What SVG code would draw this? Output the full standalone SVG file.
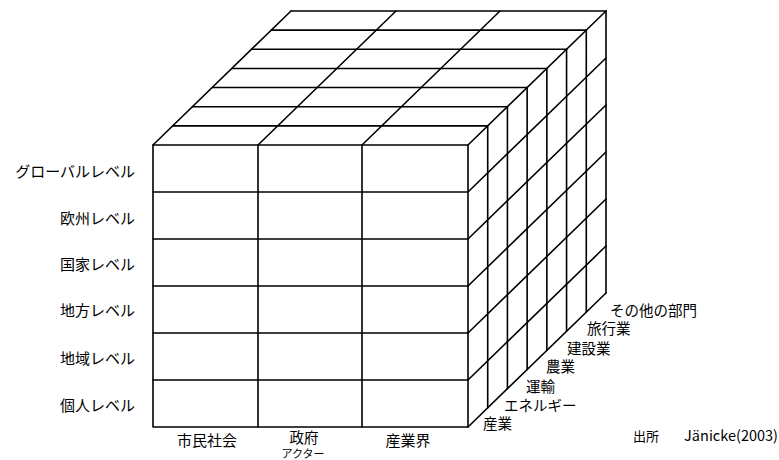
<svg xmlns="http://www.w3.org/2000/svg" width="779" height="460" viewBox="0 0 779 460">
<style>
.ln{fill:none;stroke:#000;stroke-width:1.6;stroke-linecap:round;stroke-linejoin:round}
.t{font-family:"Noto Sans CJK JP","Noto Sans",sans-serif;font-size:15px;fill:#000}
.r{text-anchor:end}
.m{text-anchor:middle}
</style>
<rect width="779" height="460" fill="#fff"/>
<g id="cube">
<g id="front-face" class="ln">
<rect x="153" y="145" width="315" height="282"/>
<path d="M258 145V427M362 145V427M153 192H468M153 239H468M153 286H468M153 333H468M153 380H468"/>
</g>
<g id="top-face" class="ln">
<path d="M172.71 125.86H487.71M192.43 106.71H507.43M212.14 87.57H527.14M231.86 68.43H546.86M251.57 49.29H566.57M271.29 30.14H586.29M291 11H606"/>
<path d="M153 145L291 11M258 145L396 11M362 145L500 11M468 145L606 11"/>
</g>
<g id="right-face" class="ln">
<path d="M468 192L606 58M468 239L606 105M468 286L606 152M468 333L606 199M468 380L606 246M468 427L606 293"/>
<path d="M487.71 125.86V407.86M507.43 106.71V388.71M527.14 87.57V369.57M546.86 68.43V350.43M566.57 49.29V331.29M586.29 30.14V312.14M606 11V293"/>
</g>
</g>
<g id="level-labels" class="t r">
<text x="135" y="177">グローバルレベル</text>
<text x="135" y="224">欧州レベル</text>
<text x="135" y="270">国家レベル</text>
<text x="135" y="316">地方レベル</text>
<text x="135" y="364">地域レベル</text>
<text x="135" y="411">個人レベル</text>
</g>
<g id="actor-labels" class="t m">
<text x="207" y="446">市民社会</text>
<text x="304" y="443" style="font-size:14.5px">政府</text>
<text x="303" y="458" style="font-size:11px">アクター</text>
<text x="408" y="446">産業界</text>
</g>
<g id="sector-labels" class="t" style="font-size:14.5px">
<text x="483" y="429">産業</text>
<text x="504" y="411">エネルギー</text>
<text x="526" y="392">運輸</text>
<text x="546" y="372">農業</text>
<text x="567" y="354">建設業</text>
<text x="587" y="334">旅行業</text>
<text x="610" y="316">その他の部門</text>
</g>
<g id="source" class="t">
<text x="633" y="441" style="font-size:13px">出所</text>
<text x="778" y="441" class="r" style="font-size:14.5px">Jänicke(2003)</text>
</g>
</svg>
